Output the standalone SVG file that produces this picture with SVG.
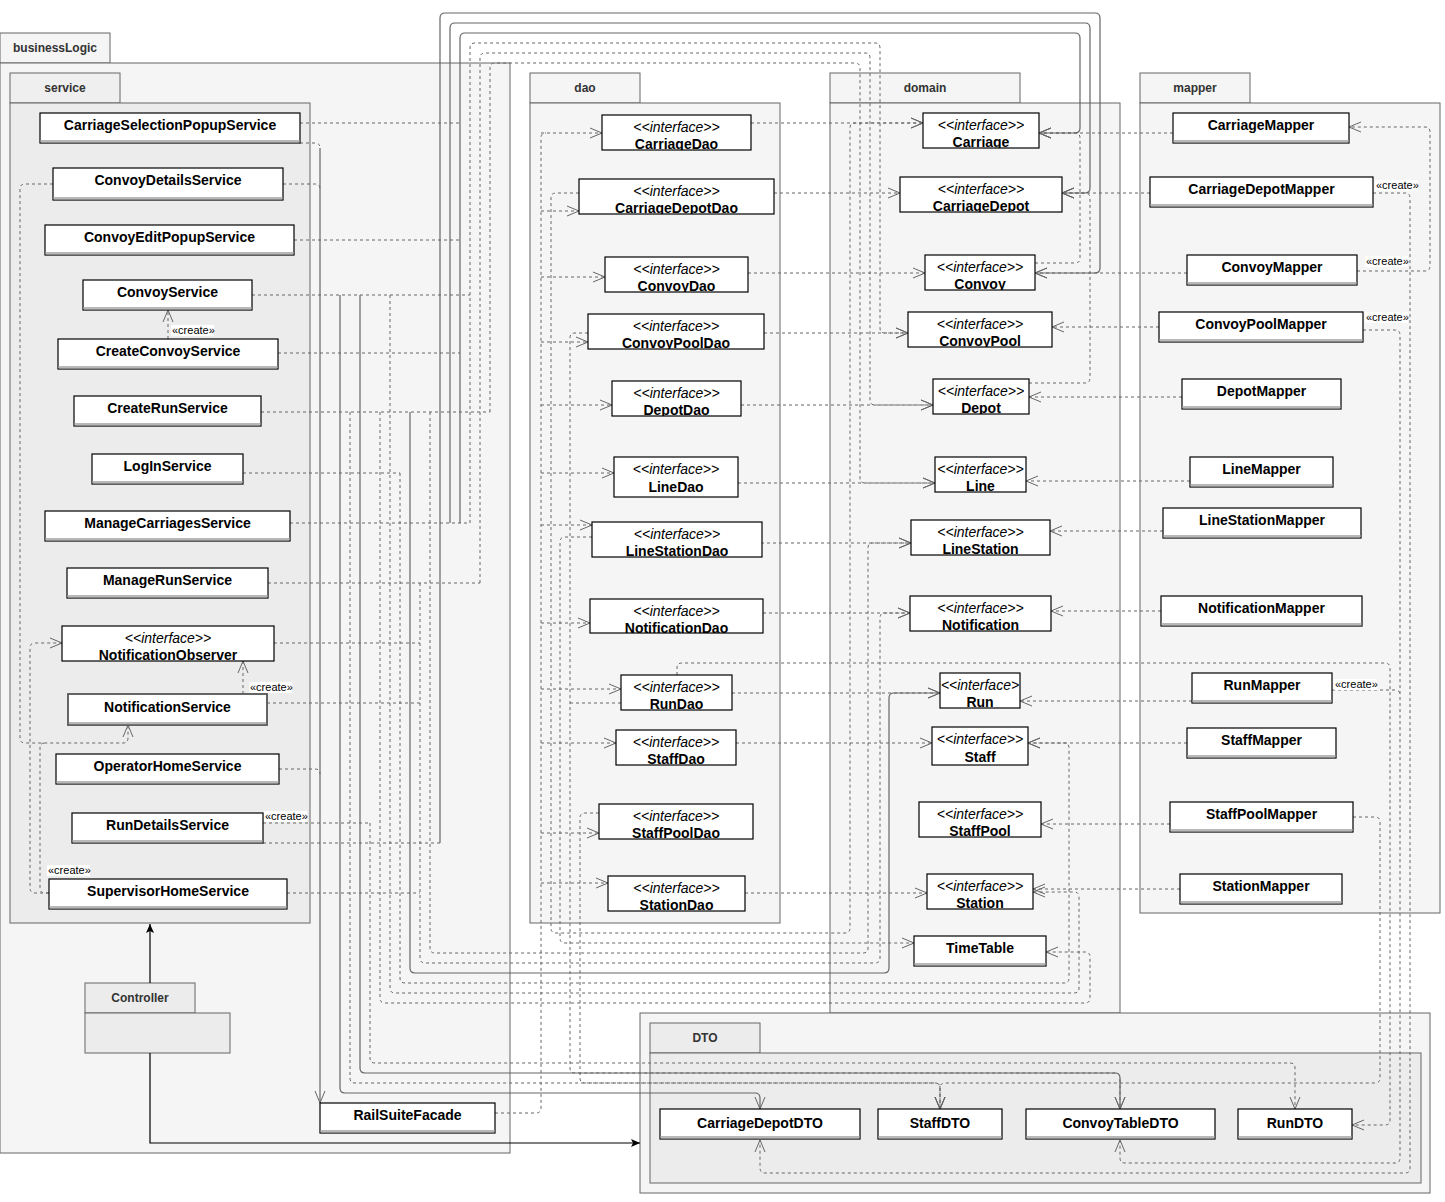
<svg xmlns="http://www.w3.org/2000/svg" width="1445" height="1202" viewBox="0 0 1445 1202">
<style>
.pk{fill:#f5f5f5;stroke:#666;stroke-width:1}
.pk2{fill:#ececec;stroke:#666;stroke-width:1}
.pt{font-family:"Liberation Sans",Arial,sans-serif;font-size:12px;font-weight:bold;fill:#333;text-anchor:middle}
.bx{fill:#fff;stroke:#000;stroke-width:1.2}
.bo{fill:none;stroke:#000;stroke-width:1.2}
.bf{fill:#fff}
.bar{fill:#b8b8b8}
.nm{font-family:"Liberation Sans",Arial,sans-serif;font-size:14px;font-weight:bold;fill:#000;text-anchor:middle}
.st{font-family:"Liberation Sans",Arial,sans-serif;font-size:14px;font-style:italic;fill:#000;text-anchor:middle}
.lb{font-family:"Liberation Sans",Arial,sans-serif;font-size:11px;fill:#000}
.lbg{fill:#fff}
.d{fill:none;stroke:#666;stroke-width:1;stroke-dasharray:3 3;marker-end:url(#oa)}
.dn{fill:none;stroke:#666;stroke-width:1;stroke-dasharray:3 3}
.s{fill:none;stroke:#666;stroke-width:1.2;marker-end:url(#oa)}
.k{fill:none;stroke:#000;stroke-width:1.2;marker-end:url(#fa)}
</style>
<defs>
<marker id="oa" markerWidth="14" markerHeight="12" refX="13" refY="6" orient="auto" markerUnits="userSpaceOnUse"><path d="M1,1 L13,6 L1,11" fill="none" stroke="#666" stroke-width="1"/></marker>
<marker id="fa" markerWidth="10" markerHeight="8" refX="9" refY="4" orient="auto" markerUnits="userSpaceOnUse"><path d="M0,0 L9,4 L0,8 L2,4 z" fill="#000"/></marker>
</defs>

<g id="packages">
<g id="pkg-businessLogic"><rect class="pk" x="0" y="33" width="110" height="30"/><rect class="pk" x="0" y="63" width="510" height="1090"/><text class="pt" x="55" y="52">businessLogic</text></g>
<g id="pkg-service"><rect class="pk2" x="10" y="73" width="110" height="30" style="fill:#efefef"/><rect class="pk2" x="10" y="103" width="300" height="820"/><text class="pt" x="65" y="92">service</text></g>
<g id="pkg-Controller"><rect class="pk2" x="85" y="983" width="110" height="30"/><rect class="pk2" x="85" y="1013" width="145" height="40"/><text class="pt" x="140" y="1002">Controller</text></g>
<g id="pkg-dao"><rect class="pk" x="530" y="73" width="110" height="30"/><rect class="pk" x="530" y="103" width="250" height="820"/><text class="pt" x="585" y="92">dao</text></g>
<g id="pkg-domain"><rect class="pk" x="830" y="73" width="190" height="30"/><rect class="pk" x="830" y="103" width="290" height="910"/><text class="pt" x="925" y="92">domain</text></g>
<g id="pkg-mapper"><rect class="pk" x="1140" y="73" width="110" height="30"/><rect class="pk" x="1140" y="103" width="300" height="810"/><text class="pt" x="1195" y="92">mapper</text></g>
<g id="pkg-DTO-outer"><rect class="pk" x="640" y="1013" width="790" height="180"/></g>
<g id="pkg-DTO"><rect class="pk2" x="650" y="1023" width="110" height="30"/><rect class="pk2" x="650" y="1053" width="771" height="130"/><text class="pt" x="705" y="1042">DTO</text></g>
</g>

<g id="connectors">
<path class="dn" d="M300,143 H315 Q320,143 320,148"/>
<path class="s" d="M320,148 V1103"/>
<path class="dn" d="M300,123 H460"/>
<path class="dn" d="M283,184 H315 Q320,184 320,189"/>
<path class="dn" d="M294,240 H460"/>
<path class="dn" d="M252,295 H470"/>
<path class="dn" d="M278,353 H460"/>
<path class="dn" d="M261,412 H490"/>
<path class="dn" d="M243,473 H400"/>
<path class="dn" d="M290,523 H470"/>
<path class="dn" d="M268,583 H480"/>
<path class="dn" d="M274,643 H420"/>
<path class="dn" d="M267,703 H420"/>
<path class="dn" d="M279,769 H315 Q320,769 320,774"/>
<path class="dn" d="M263,823 H370"/>
<path class="dn" d="M263,843 H440"/>
<path class="dn" d="M287,893 H420"/>

<path class="s" d="M440,843 V18 Q440,13 445,13 H1095 Q1100,13 1100,18 V268 Q1100,273 1095,273 H1035"/>
<path class="s" d="M450,523 V28 Q450,23 455,23 H1085 Q1090,23 1090,28 V188 Q1090,193 1085,193 H1062"/>
<path class="s" d="M460,523 V38 Q460,33 465,33 H1075 Q1080,33 1080,38 V128 Q1080,133 1075,133 H1039"/>
<path class="d" d="M470,523 V48 Q470,43 475,43 H875 Q880,43 880,48 V328 Q880,333 885,333 H908"/>
<path class="d" d="M480,583 V58 Q480,53 485,53 H865 Q870,53 870,58 V400 Q870,405 875,405 H933"/>
<path class="d" d="M490,412 V68 Q490,63 495,63 H855 Q860,63 860,68 V478 Q860,483 865,483 H935"/>

<path class="s" d="M340,295 V1088 Q340,1093 345,1093 H755 Q760,1093 760,1098 V1109"/>
<path class="d" d="M350,412 V1078 Q350,1083 355,1083 H935 Q940,1083 940,1088 V1109"/>
<path class="s" d="M360,295 V1068 Q360,1073 365,1073 H1115 Q1120,1073 1120,1078 V1109"/>
<path class="d" d="M370,823 V1058 Q370,1063 375,1063 H1290 Q1295,1063 1295,1068 V1109"/>
<path class="d" d="M380,412 V998 Q380,1003 385,1003 H1085 Q1090,1003 1090,998 V957 Q1090,952 1085,952 H1046"/>
<path class="d" d="M390,295 V988 Q390,993 395,993 H1074 Q1079,993 1079,988 V897 Q1079,892 1074,892 H1033"/>
<path class="d" d="M400,473 V978 Q400,983 405,983 H1064 Q1069,983 1069,978 V748 Q1069,743 1064,743 H1028"/>
<path class="s" d="M410,412 V968 Q410,973 415,973 H884 Q889,973 889,968 V698 Q889,693 894,693 H940"/>
<path class="d" d="M420,583 V958 Q420,963 425,963 H875 Q880,963 880,958 V618 Q880,613 885,613 H910"/>
<path class="d" d="M430,412 V948 Q430,953 435,953 H863 Q868,953 868,948 V548 Q868,543 873,543 H911"/>

<path class="dn" d="M495,1113 H536 Q541,1113 541,1108 V138 Q541,133 546,133"/>
<path class="d" d="M541,133 H602"/>
<path class="d" d="M541,211 H579"/>
<path class="d" d="M541,277 H605"/>
<path class="d" d="M541,342 H588"/>
<path class="d" d="M541,405 H612"/>
<path class="d" d="M541,473 H614"/>
<path class="d" d="M541,525 H592"/>
<path class="d" d="M541,623 H590"/>
<path class="d" d="M541,689 H621"/>
<path class="d" d="M541,743 H616"/>
<path class="d" d="M541,833 H599"/>
<path class="d" d="M541,883 H608"/>
<path class="d" d="M579,193 H556 Q551,193 551,198 V928 Q551,933 556,933 H845 Q850,933 850,928 V128 Q850,123 855,123 H923"/>
<path class="d" d="M592,537 H565 Q560,537 560,542 V938 Q560,943 565,943 H914"/>
<path class="d" d="M588,333 H575 Q570,333 570,338 V1068 Q570,1073 575,1073 H1115 Q1120,1073 1120,1078 V1109"/>
<path class="dn" d="M621,703 H570"/>
<path class="d" d="M599,813 H585 Q580,813 580,818 V1078 Q580,1083 585,1083 H935 Q940,1083 940,1088 V1109"/>

<path class="d" d="M751,123 H923"/>
<path class="d" d="M774,193 H900"/>
<path class="d" d="M748,273 H925"/>
<path class="d" d="M764,333 H908"/>
<path class="d" d="M741,405 H933"/>
<path class="d" d="M738,483 H935"/>
<path class="d" d="M761,543 H911"/>
<path class="d" d="M763,613 H910"/>
<path class="d" d="M732,693 H940"/>
<path class="d" d="M736,743 H932"/>
<path class="d" d="M745,893 H927"/>
<path class="d" d="M677,675 V668 Q677,663 682,663 H1385 Q1390,663 1390,668 V1120 Q1390,1125 1385,1125 H1352"/>

<path class="d" d="M1035,263 H1075 Q1080,263 1080,258 V138 Q1080,133 1075,133 H1039"/>
<path class="d" d="M1029,383 H1085 Q1090,383 1090,378 V198 Q1090,193 1085,193 H1062"/>

<path class="d" d="M1173,133 H1039"/>
<path class="d" d="M1150,193 H1062"/>
<path class="d" d="M1187,273 H1035"/>
<path class="d" d="M1159,327 H1052"/>
<path class="d" d="M1182,397 H1029"/>
<path class="d" d="M1190,481 H1026"/>
<path class="d" d="M1163,531 H1050"/>
<path class="d" d="M1161,611 H1051"/>
<path class="d" d="M1192,701 H1020"/>
<path class="d" d="M1187,743 H1028"/>
<path class="d" d="M1170,824 H1041"/>
<path class="d" d="M1180,889 H1033"/>

<path class="d" d="M1357,271 H1425 Q1430,271 1430,266 V132 Q1430,127 1425,127 H1349"/>
<path class="d" d="M1373,193 H1405 Q1410,193 1410,198 V1168 Q1410,1173 1405,1173 H765 Q760,1173 760,1168 V1140"/>
<path class="d" d="M1363,330 H1395 Q1400,330 1400,335 V1158 Q1400,1163 1395,1163 H1125 Q1120,1163 1120,1158 V1140"/>
<path class="dn" d="M1332,690 H1395 Q1400,690 1400,695"/>
<path class="d" d="M1353,817 H1375 Q1380,817 1380,822 V1078 Q1380,1083 1375,1083 H945 Q940,1083 940,1088 V1109"/>

<path class="d" d="M168,339 V310"/>
<path class="d" d="M243,694 V661"/>
<path class="d" d="M53,184 H25 Q20,184 20,189 V738 Q20,743 25,743 H123 Q128,743 128,738 V725"/>
<path class="d" d="M49,893 H35 Q30,893 30,888 V648 Q30,643 35,643 H62"/>
<path class="dn" d="M49,893 H45 Q40,893 40,888 V748 Q40,743 45,743"/>

<path class="k" d="M150,983 V924"/>
<path class="k" d="M150,1053 V1143 H640"/>

<g id="labels">
<rect class="lbg" x="171" y="325" width="43" height="11"/><text class="lb" x="172" y="334">«create»</text>
<rect class="lbg" x="249" y="682" width="43" height="11"/><text class="lb" x="250" y="691">«create»</text>
<rect class="lbg" x="264" y="811" width="43" height="11"/><text class="lb" x="265" y="820">«create»</text>
<rect class="lbg" x="47" y="865" width="43" height="11"/><text class="lb" x="48" y="874">«create»</text>
<rect class="lbg" x="1375" y="180" width="43" height="11"/><text class="lb" x="1376" y="189">«create»</text>
<rect class="lbg" x="1365" y="256" width="43" height="11"/><text class="lb" x="1366" y="265">«create»</text>
<rect class="lbg" x="1365" y="312" width="43" height="11"/><text class="lb" x="1366" y="321">«create»</text>
<rect class="lbg" x="1334" y="679" width="43" height="11"/><text class="lb" x="1335" y="688">«create»</text>
</g>
</g>

<g id="nodes">
<g id="CarriageSelectionPopupService"><rect class="bx" x="40" y="113" width="260" height="30"/><rect class="bar" x="40.6" y="140" width="258.8" height="2.4"/><text class="nm" x="170" y="130">CarriageSelectionPopupService</text></g>
<g id="ConvoyDetailsService"><rect class="bx" x="53" y="168" width="230" height="32"/><rect class="bar" x="53.6" y="197" width="228.8" height="2.4"/><text class="nm" x="168" y="185">ConvoyDetailsService</text></g>
<g id="ConvoyEditPopupService"><rect class="bx" x="45" y="225" width="249" height="30"/><rect class="bar" x="45.6" y="252" width="247.8" height="2.4"/><text class="nm" x="169.5" y="242">ConvoyEditPopupService</text></g>
<g id="ConvoyService"><rect class="bx" x="83" y="280" width="169" height="30"/><rect class="bar" x="83.6" y="307" width="167.8" height="2.4"/><text class="nm" x="167.5" y="297">ConvoyService</text></g>
<g id="CreateConvoyService"><rect class="bx" x="58" y="339" width="220" height="30"/><rect class="bar" x="58.6" y="366" width="218.8" height="2.4"/><text class="nm" x="168" y="356">CreateConvoyService</text></g>
<g id="CreateRunService"><rect class="bx" x="74" y="396" width="187" height="30"/><rect class="bar" x="74.6" y="423" width="185.8" height="2.4"/><text class="nm" x="167.5" y="413">CreateRunService</text></g>
<g id="LogInService"><rect class="bx" x="92" y="454" width="151" height="30"/><rect class="bar" x="92.6" y="481" width="149.8" height="2.4"/><text class="nm" x="167.5" y="471">LogInService</text></g>
<g id="ManageCarriagesService"><rect class="bx" x="45" y="511" width="245" height="30"/><rect class="bar" x="45.6" y="538" width="243.8" height="2.4"/><text class="nm" x="167.5" y="528">ManageCarriagesService</text></g>
<g id="ManageRunService"><rect class="bx" x="67" y="568" width="201" height="30"/><rect class="bar" x="67.6" y="595" width="199.8" height="2.4"/><text class="nm" x="167.5" y="585">ManageRunService</text></g>
<g id="NotificationObserver"><rect class="bf" x="62" y="626" width="212" height="35"/><svg x="62" y="626" width="212" height="35"><text class="st" x="106" y="17">&lt;&lt;interface&gt;&gt;</text><text class="nm" x="106" y="34">NotificationObserver</text></svg><rect class="bo" x="62" y="626" width="212" height="35"/></g>
<g id="NotificationService"><rect class="bx" x="68" y="694" width="199" height="31" style="stroke:#555;stroke-width:1.8"/><rect class="bar" x="68.9" y="722" width="197.2" height="2.2"/><text class="nm" x="167.5" y="712">NotificationService</text></g>
<g id="OperatorHomeService"><rect class="bx" x="56" y="754" width="223" height="30"/><rect class="bar" x="56.6" y="781" width="221.8" height="2.4"/><text class="nm" x="167.5" y="771">OperatorHomeService</text></g>
<g id="RunDetailsService"><rect class="bx" x="72" y="813" width="191" height="30"/><rect class="bar" x="72.6" y="840" width="189.8" height="2.4"/><text class="nm" x="167.5" y="830">RunDetailsService</text></g>
<g id="SupervisorHomeService"><rect class="bx" x="49" y="879" width="238" height="30"/><rect class="bar" x="49.6" y="906" width="236.8" height="2.4"/><text class="nm" x="168" y="896">SupervisorHomeService</text></g>
<g id="RailSuiteFacade"><rect class="bx" x="320" y="1103" width="175" height="30"/><rect class="bar" x="320.6" y="1130" width="173.8" height="2.4"/><text class="nm" x="407.5" y="1120">RailSuiteFacade</text></g>

<g id="CarriageDao"><rect class="bf" x="602" y="115" width="149" height="35"/><svg x="602" y="115" width="149" height="35"><text class="st" x="74.5" y="17">&lt;&lt;interface&gt;&gt;</text><text class="nm" x="74.5" y="34">CarriageDao</text></svg><rect class="bo" x="602" y="115" width="149" height="35"/></g>
<g id="CarriageDepotDao"><rect class="bf" x="579" y="179" width="195" height="35"/><svg x="579" y="179" width="195" height="35"><text class="st" x="97.5" y="17">&lt;&lt;interface&gt;&gt;</text><text class="nm" x="97.5" y="34">CarriageDepotDao</text></svg><rect class="bo" x="579" y="179" width="195" height="35"/></g>
<g id="ConvoyDao"><rect class="bf" x="605" y="257" width="143" height="35"/><svg x="605" y="257" width="143" height="35"><text class="st" x="71.5" y="17">&lt;&lt;interface&gt;&gt;</text><text class="nm" x="71.5" y="34">ConvoyDao</text></svg><rect class="bo" x="605" y="257" width="143" height="35"/></g>
<g id="ConvoyPoolDao"><rect class="bf" x="588" y="314" width="176" height="35"/><svg x="588" y="314" width="176" height="35"><text class="st" x="88" y="17">&lt;&lt;interface&gt;&gt;</text><text class="nm" x="88" y="34">ConvoyPoolDao</text></svg><rect class="bo" x="588" y="314" width="176" height="35"/></g>
<g id="DepotDao"><rect class="bf" x="612" y="381" width="129" height="35"/><svg x="612" y="381" width="129" height="35"><text class="st" x="64.5" y="17">&lt;&lt;interface&gt;&gt;</text><text class="nm" x="64.5" y="34">DepotDao</text></svg><rect class="bo" x="612" y="381" width="129" height="35"/></g>
<g id="LineDao"><rect class="bf" x="614" y="457" width="124" height="40"/><svg x="614" y="457" width="124" height="40"><text class="st" x="62" y="17">&lt;&lt;interface&gt;&gt;</text><text class="nm" x="62" y="35">LineDao</text></svg><rect class="bo" x="614" y="457" width="124" height="40"/></g>
<g id="LineStationDao"><rect class="bf" x="592" y="522" width="170" height="35"/><svg x="592" y="522" width="170" height="35"><text class="st" x="85" y="17">&lt;&lt;interface&gt;&gt;</text><text class="nm" x="85" y="34">LineStationDao</text></svg><rect class="bo" x="592" y="522" width="170" height="35"/></g>
<g id="NotificationDao"><rect class="bf" x="590" y="599" width="173" height="34"/><svg x="590" y="599" width="173" height="34"><text class="st" x="86.5" y="17">&lt;&lt;interface&gt;&gt;</text><text class="nm" x="86.5" y="34">NotificationDao</text></svg><rect class="bo" x="590" y="599" width="173" height="34"/></g>
<g id="RunDao"><rect class="bf" x="621" y="675" width="111" height="35"/><svg x="621" y="675" width="111" height="35"><text class="st" x="55.5" y="17">&lt;&lt;interface&gt;&gt;</text><text class="nm" x="55.5" y="34">RunDao</text></svg><rect class="bo" x="621" y="675" width="111" height="35"/></g>
<g id="StaffDao"><rect class="bf" x="616" y="730" width="120" height="35"/><svg x="616" y="730" width="120" height="35"><text class="st" x="60" y="17">&lt;&lt;interface&gt;&gt;</text><text class="nm" x="60" y="34">StaffDao</text></svg><rect class="bo" x="616" y="730" width="120" height="35"/></g>
<g id="StaffPoolDao"><rect class="bf" x="599" y="804" width="154" height="35"/><svg x="599" y="804" width="154" height="35"><text class="st" x="77" y="17">&lt;&lt;interface&gt;&gt;</text><text class="nm" x="77" y="34">StaffPoolDao</text></svg><rect class="bo" x="599" y="804" width="154" height="35"/></g>
<g id="StationDao"><rect class="bf" x="608" y="876" width="137" height="35"/><svg x="608" y="876" width="137" height="35"><text class="st" x="68.5" y="17">&lt;&lt;interface&gt;&gt;</text><text class="nm" x="68.5" y="34">StationDao</text></svg><rect class="bo" x="608" y="876" width="137" height="35"/></g>

<g id="Carriage"><rect class="bf" x="923" y="113" width="116" height="35"/><svg x="923" y="113" width="116" height="35"><text class="st" x="58" y="17">&lt;&lt;interface&gt;&gt;</text><text class="nm" x="58" y="34">Carriage</text></svg><rect class="bo" x="923" y="113" width="116" height="35"/></g>
<g id="CarriageDepot"><rect class="bf" x="900" y="177" width="162" height="35"/><svg x="900" y="177" width="162" height="35"><text class="st" x="81" y="17">&lt;&lt;interface&gt;&gt;</text><text class="nm" x="81" y="34">CarriageDepot</text></svg><rect class="bo" x="900" y="177" width="162" height="35"/></g>
<g id="Convoy"><rect class="bf" x="925" y="255" width="110" height="35"/><svg x="925" y="255" width="110" height="35"><text class="st" x="55" y="17">&lt;&lt;interface&gt;&gt;</text><text class="nm" x="55" y="34">Convoy</text></svg><rect class="bo" x="925" y="255" width="110" height="35"/></g>
<g id="ConvoyPool"><rect class="bf" x="908" y="312" width="144" height="35"/><svg x="908" y="312" width="144" height="35"><text class="st" x="72" y="17">&lt;&lt;interface&gt;&gt;</text><text class="nm" x="72" y="34">ConvoyPool</text></svg><rect class="bo" x="908" y="312" width="144" height="35"/></g>
<g id="Depot"><rect class="bf" x="933" y="379" width="96" height="35"/><svg x="933" y="379" width="96" height="35"><text class="st" x="48" y="17">&lt;&lt;interface&gt;&gt;</text><text class="nm" x="48" y="34">Depot</text></svg><rect class="bo" x="933" y="379" width="96" height="35"/></g>
<g id="Line"><rect class="bf" x="935" y="457" width="91" height="35"/><svg x="935" y="457" width="91" height="35"><text class="st" x="45.5" y="17">&lt;&lt;interface&gt;&gt;</text><text class="nm" x="45.5" y="34">Line</text></svg><rect class="bo" x="935" y="457" width="91" height="35"/></g>
<g id="LineStation"><rect class="bf" x="911" y="520" width="139" height="35"/><svg x="911" y="520" width="139" height="35"><text class="st" x="69.5" y="17">&lt;&lt;interface&gt;&gt;</text><text class="nm" x="69.5" y="34">LineStation</text></svg><rect class="bo" x="911" y="520" width="139" height="35"/></g>
<g id="Notification"><rect class="bf" x="910" y="596" width="141" height="35"/><svg x="910" y="596" width="141" height="35"><text class="st" x="70.5" y="17">&lt;&lt;interface&gt;&gt;</text><text class="nm" x="70.5" y="34">Notification</text></svg><rect class="bo" x="910" y="596" width="141" height="35"/></g>
<g id="Run"><rect class="bf" x="940" y="673" width="80" height="35"/><svg x="940" y="673" width="80" height="35"><text class="st" x="40" y="17">&lt;&lt;interface&gt;</text><text class="nm" x="40" y="34">Run</text></svg><rect class="bo" x="940" y="673" width="80" height="35"/></g>
<g id="Staff"><rect class="bf" x="932" y="727" width="96" height="38"/><svg x="932" y="727" width="96" height="38"><text class="st" x="48" y="17">&lt;&lt;interface&gt;&gt;</text><text class="nm" x="48" y="35">Staff</text></svg><rect class="bo" x="932" y="727" width="96" height="38"/></g>
<g id="StaffPool"><rect class="bf" x="919" y="802" width="122" height="35"/><svg x="919" y="802" width="122" height="35"><text class="st" x="61" y="17">&lt;&lt;interface&gt;&gt;</text><text class="nm" x="61" y="34">StaffPool</text></svg><rect class="bo" x="919" y="802" width="122" height="35"/></g>
<g id="Station"><rect class="bf" x="927" y="874" width="106" height="35"/><svg x="927" y="874" width="106" height="35"><text class="st" x="53" y="17">&lt;&lt;interface&gt;&gt;</text><text class="nm" x="53" y="34">Station</text></svg><rect class="bo" x="927" y="874" width="106" height="35"/></g>
<g id="TimeTable"><rect class="bx" x="914" y="936" width="132" height="30"/><rect class="bar" x="914.6" y="963" width="130.8" height="2.4"/><text class="nm" x="980" y="953">TimeTable</text></g>

<g id="CarriageMapper"><rect class="bx" x="1173" y="113" width="176" height="30"/><rect class="bar" x="1173.6" y="140" width="174.8" height="2.4"/><text class="nm" x="1261" y="130">CarriageMapper</text></g>
<g id="CarriageDepotMapper"><rect class="bx" x="1150" y="177" width="223" height="30"/><rect class="bar" x="1150.6" y="204" width="221.8" height="2.4"/><text class="nm" x="1261.5" y="194">CarriageDepotMapper</text></g>
<g id="ConvoyMapper"><rect class="bx" x="1187" y="255" width="170" height="30"/><rect class="bar" x="1187.6" y="282" width="168.8" height="2.4"/><text class="nm" x="1272" y="272">ConvoyMapper</text></g>
<g id="ConvoyPoolMapper"><rect class="bx" x="1159" y="312" width="204" height="30"/><rect class="bar" x="1159.6" y="339" width="202.8" height="2.4"/><text class="nm" x="1261" y="329">ConvoyPoolMapper</text></g>
<g id="DepotMapper"><rect class="bx" x="1182" y="379" width="159" height="30"/><rect class="bar" x="1182.6" y="406" width="157.8" height="2.4"/><text class="nm" x="1261.5" y="396">DepotMapper</text></g>
<g id="LineMapper"><rect class="bx" x="1190" y="457" width="143" height="30"/><rect class="bar" x="1190.6" y="484" width="141.8" height="2.4"/><text class="nm" x="1261.5" y="474">LineMapper</text></g>
<g id="LineStationMapper"><rect class="bx" x="1163" y="508" width="198" height="30"/><rect class="bar" x="1163.6" y="535" width="196.8" height="2.4"/><text class="nm" x="1262" y="525">LineStationMapper</text></g>
<g id="NotificationMapper"><rect class="bx" x="1161" y="596" width="201" height="30"/><rect class="bar" x="1161.6" y="623" width="199.8" height="2.4"/><text class="nm" x="1261.5" y="613">NotificationMapper</text></g>
<g id="RunMapper"><rect class="bx" x="1192" y="673" width="140" height="30"/><rect class="bar" x="1192.6" y="700" width="138.8" height="2.4"/><text class="nm" x="1262" y="690">RunMapper</text></g>
<g id="StaffMapper"><rect class="bx" x="1187" y="728" width="149" height="30"/><rect class="bar" x="1187.6" y="755" width="147.8" height="2.4"/><text class="nm" x="1261.5" y="745">StaffMapper</text></g>
<g id="StaffPoolMapper"><rect class="bx" x="1170" y="802" width="183" height="30"/><rect class="bar" x="1170.6" y="829" width="181.8" height="2.4"/><text class="nm" x="1261.5" y="819">StaffPoolMapper</text></g>
<g id="StationMapper"><rect class="bx" x="1180" y="874" width="162" height="30"/><rect class="bar" x="1180.6" y="901" width="160.8" height="2.4"/><text class="nm" x="1261" y="891">StationMapper</text></g>

<g id="CarriageDepotDTO"><rect class="bx" x="660" y="1109" width="200" height="30"/><rect class="bar" x="660.6" y="1136" width="198.8" height="2.4"/><text class="nm" x="760" y="1128">CarriageDepotDTO</text></g>
<g id="StaffDTO"><rect class="bx" x="878" y="1109" width="124" height="30"/><rect class="bar" x="878.6" y="1136" width="122.8" height="2.4"/><text class="nm" x="940" y="1128">StaffDTO</text></g>
<g id="ConvoyTableDTO"><rect class="bx" x="1026" y="1109" width="189" height="30"/><rect class="bar" x="1026.6" y="1136" width="187.8" height="2.4"/><text class="nm" x="1120.5" y="1128">ConvoyTableDTO</text></g>
<g id="RunDTO"><rect class="bx" x="1238" y="1109" width="114" height="30"/><rect class="bar" x="1238.6" y="1136" width="112.8" height="2.4"/><text class="nm" x="1295" y="1128">RunDTO</text></g>
</g>
</svg>
